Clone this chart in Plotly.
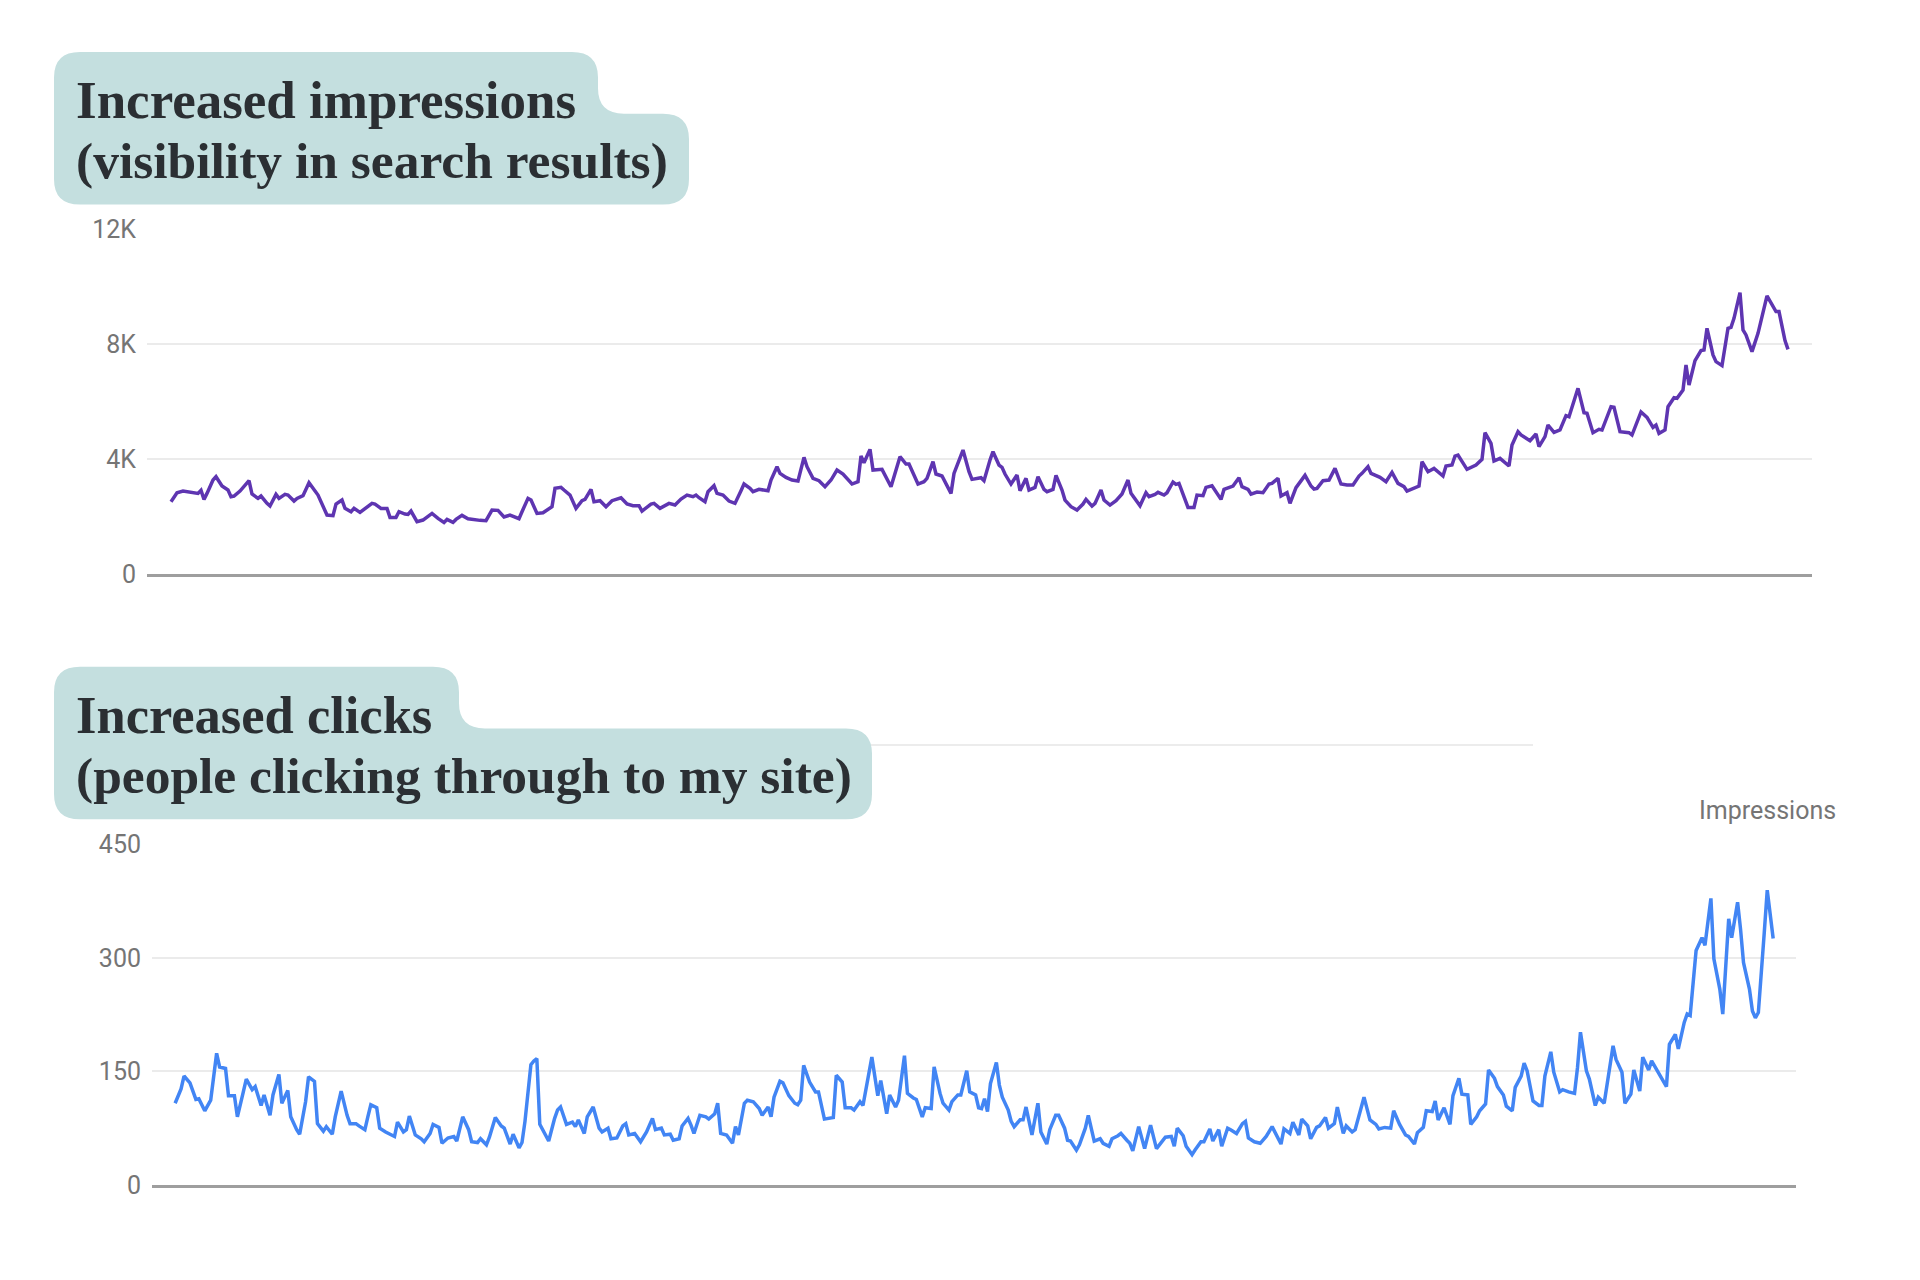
import plotly.graph_objects as go
from plotly.subplots import make_subplots

# impressions (top chart), day index vs daily impressions
imp_days = [0, 2, 4, 7, 9, 10, 11, 12, 14, 15, 17, 19, 20, 21, 23, 26, 27, 29, 30, 32, 33, 35, 36, 38, 39,
            41, 42, 44, 46, 49, 50, 52, 54, 55, 57, 58, 60, 61, 63, 65, 67, 68, 70, 72, 73, 75, 76, 78, 79, 80,
            82, 84, 86, 87, 89, 91, 92, 94, 95, 97, 99, 101, 103, 105, 107, 109, 110, 111, 113, 115, 116, 117,
            119, 120, 122, 124, 125, 127, 128, 130, 131,
            133, 135, 137, 138, 140, 141, 143, 145, 147, 150, 152, 154, 156, 157, 160, 161, 163, 166, 168, 170,
            172, 174, 175, 176, 178, 179, 181, 182, 184, 186, 188, 190, 191, 193, 194, 196, 199, 200, 202, 203,
            205, 207, 209, 211, 212, 214, 216, 218, 220, 222, 224, 227, 229, 230, 231, 233, 234, 237, 239, 240,
            243, 245, 246, 249, 251, 252, 254, 255, 257, 258, 260, 261, 264, 266, 267,
            270, 271, 273, 274, 276, 277, 278, 280, 282, 283, 285, 286, 288, 289, 291, 292, 294, 295, 297, 298,
            300, 302, 304, 305, 307, 308, 310, 311, 313, 315, 317, 319, 320, 322, 323, 325, 326, 328, 329, 331,
            332, 334, 335, 336, 338, 339, 341, 342, 344, 345, 347, 350, 351, 353, 354, 356, 357, 359, 360, 362,
            364, 366, 367, 369, 370, 372, 373, 375, 378, 380, 381, 382, 384, 386, 388, 390, 392, 394, 396, 397,
            399, 400,
            403, 405, 407, 409, 411, 412, 414, 416, 417, 419, 421, 424, 425, 427, 428, 429, 432, 435, 437, 438,
            440, 441, 443, 446, 447, 449, 450, 453, 455, 456, 458, 459, 461, 463, 465, 466, 469, 471, 472, 474,
            476, 477, 480, 481, 483, 485, 486, 487, 490, 492, 494, 495, 496, 498, 499, 501, 502, 504, 505, 506,
            508, 510, 511, 512, 514, 515, 517, 519, 520, 521, 523, 524, 525, 527, 529, 532, 533, 535, 536, 538,
            539]
impressions = [2515, 2828, 2886, 2828, 2805, 2910, 2596, 2805, 3269, 3385, 3060, 2921, 2689, 2712, 2886, 3246,
               2782, 2631, 2712, 2457, 2364, 2770, 2631, 2770, 2747, 2538, 2631, 2724, 3176, 2747, 2515, 2051,
               2028, 2434, 2573, 2283, 2167, 2283, 2144, 2283, 2457, 2434, 2283, 2283, 1970, 1970, 2167, 2086,
               2074, 2190, 1819, 1877, 2016, 2109, 1935, 1796, 1900, 1796, 1900, 2040, 1924, 1889, 1866, 1854,
               2225, 2214, 2109, 1982, 2051, 1947, 1924, 2167, 2631, 2573, 2109, 2132, 2202, 2341, 2979, 3014,
               2921,
               2747, 2283, 2550, 2596, 2944, 2515, 2550, 2341, 2550, 2654, 2434, 2376, 2376, 2190, 2434, 2457,
               2283, 2457, 2399, 2608, 2747, 2689, 2747, 2654, 2515, 2863, 3072, 2805, 2747, 2538, 2457, 2898,
               3130, 2979, 2863, 2944, 2898, 3269, 3733, 3501, 3362, 3269, 3234, 4058, 3733, 3327, 3246, 3037,
               3269, 3617, 3478, 3130, 3211, 4104, 3872, 4336, 3617, 3640, 3269, 3037, 4081, 3826, 3826, 3130,
               3211, 3327, 3907, 3478, 3408, 3211, 2805, 3501, 4313, 3559, 3292,
               3350, 3246, 3965, 4255, 3791, 3710, 3478, 3130, 3443, 2898, 3327, 2921, 3014, 3385, 2944, 2863,
               2944, 3432, 2921, 2573, 2341, 2225, 2434, 2596, 2364, 2457, 2921, 2573, 2399, 2550, 2782, 3269,
               2805, 2515, 2376, 2828, 2689, 2770, 2840, 2747, 2828, 3200, 3118, 3153, 2631, 2318, 2318, 2747,
               2724, 3014, 3072, 2596, 2944, 3037, 3060, 3350, 3037, 2944, 2782, 2852, 2828, 3130, 3153, 3327,
               2712, 2828, 2457, 3002, 3432, 3060, 2956, 2979, 3246, 3269, 3675, 3130, 3095, 3095, 3408, 3501,
               3733, 3501,
               3362, 3211, 3536, 3153, 3037, 2886, 2979, 3060, 3907, 3559, 3675, 3408, 3756, 3791, 4104, 4139,
               3640, 3791, 3988, 4916, 4545, 3930, 4023, 3756, 4487, 4951, 4835, 4638, 4870, 4429, 4777, 5183,
               4928, 5009, 5508, 5473, 6459, 5612, 5589, 4916, 5032, 5009, 5821, 5798, 4951, 4916, 4916, 4835,
               5636, 5450, 5102, 5183, 4893, 5009, 5821, 6134, 6111, 6401, 7271, 6575, 7422, 7770, 7793, 8547,
               7619, 7387, 7248, 8547, 8582, 8895, 9788, 8489, 8315, 7735, 8373, 9672, 9475, 9127, 9127, 8118,
               7816]

# clicks (bottom chart), day index vs daily clicks
clk_days = [0, 2, 3, 5, 7, 8, 10, 11, 12, 14, 15, 17, 18, 20, 21, 23, 24, 26, 27, 29, 30, 32, 33, 35, 36, 38,
            39, 41, 42, 44, 45, 47, 48, 50, 51, 53, 54, 56, 58, 59, 61, 62, 64, 65, 66, 68, 69, 71, 72, 74, 75,
            77, 78, 79, 81, 83, 84, 86, 87, 89, 90, 92, 94, 95, 97, 99, 100, 102, 103, 105, 106, 108, 110, 111,
            113, 114, 116, 117, 118, 120, 121, 122, 123, 124, 126, 128, 129, 130, 132, 134,
            135, 136, 138, 139, 141, 143, 144, 146, 147, 149, 151, 152, 153, 155, 157, 159, 161, 162, 164, 165,
            167, 168, 170, 171, 173, 174, 175, 177, 179, 180, 182, 183, 184, 186, 188, 189, 190, 192, 193, 195,
            197, 198, 200, 201, 202, 204, 205, 207, 209, 210, 211, 212, 214, 216, 217, 219, 221, 222, 223, 225,
            226, 228, 229, 231, 232, 234, 235, 237, 238, 240, 241, 243, 244, 246, 247, 249, 250, 252, 253, 255,
            256, 258, 259, 261, 262, 264, 265, 267, 268, 270, 271,
            272, 273, 274, 275, 277, 278, 279, 281, 282, 283, 285, 286, 287, 289, 291, 292, 294, 295, 297, 298,
            300, 301, 302, 304, 305, 307, 308, 310, 312, 313, 315, 316, 318, 319, 321, 322, 323, 325, 327, 328,
            329, 331, 333, 334, 336, 337, 338, 340, 341, 343, 344, 346, 347, 349, 350, 352, 353, 355, 356, 358,
            360, 361, 362, 364, 366, 368, 370, 371, 373, 374, 376, 377, 379, 380, 382, 383, 385, 386, 388, 389,
            391, 392, 394, 395, 397, 398, 400, 401, 403, 405, 406,
            408, 410, 411, 413, 415, 416, 418, 419, 421, 422, 424, 425, 426, 428, 430, 431, 433, 434, 436, 437,
            439, 440, 442, 443, 445, 446, 448, 449, 451, 452, 454, 455, 456, 458, 460, 461, 462, 464, 465, 467,
            468, 470, 472, 473, 474, 476, 477, 479, 480, 482, 483, 485, 486, 488, 489, 491, 492, 494, 495, 497,
            498, 500, 501, 503, 504, 506, 507, 509, 510, 511, 513, 515, 516, 518, 519, 521, 522, 524, 525, 527,
            528, 529, 531, 532, 533, 534, 536, 537, 539]
clicks = [108, 127, 144, 135, 113, 114, 98, 105, 112, 174, 156, 154, 118, 118, 90, 123, 140, 126, 130, 105,
          119, 92, 119, 146, 108, 125, 90, 73, 67, 110, 143, 137, 81, 71, 77, 67, 90, 124, 92, 81, 81, 78, 73,
          90, 106, 102, 75, 70, 68, 64, 83, 70, 73, 91, 66, 61, 57, 68, 80, 76, 55, 62, 64, 58, 90, 73, 57, 56,
          61, 53, 63, 89, 78, 75, 54, 67, 49, 56, 84, 159, 164, 167, 80, 73, 58, 88, 99, 103, 80, 83,
          77, 86, 68, 90, 103, 75, 70, 75, 61, 62, 78, 81, 66, 68, 57, 70, 88, 73, 75, 66, 67, 59, 61, 78, 88,
          79, 68, 92, 90, 87, 94, 108, 68, 66, 55, 77, 66, 108, 112, 110, 101, 92, 103, 90, 116, 137, 135, 118,
          108, 106, 112, 158, 136, 123, 123, 87, 89, 89, 145, 136, 102, 102, 99, 110, 105, 149, 169, 118, 138,
          94, 119, 103, 112, 171, 121, 115, 113, 90, 102, 101, 156, 121, 108, 99, 110, 119, 119, 151, 123, 119,
          102,
          101, 114, 97, 134, 162, 132, 116, 99, 84, 77, 86, 86, 103, 66, 108, 70, 54, 73, 92, 92, 75, 59, 58,
          46, 53, 75, 92, 58, 61, 55, 51, 61, 65, 68, 59, 55, 45, 77, 48, 66, 79, 48, 59, 63, 64, 51, 75, 65,
          51, 40, 46, 57, 57, 74, 58, 73, 51, 75, 73, 68, 81, 84, 62, 57, 55, 64, 77, 70, 54, 74, 68, 83, 66,
          87, 78, 61, 76, 78, 89, 75, 81, 103, 68, 78, 70, 73, 102, 116, 86, 80, 74,
          76, 75, 98, 80, 66, 64, 54, 69, 76, 98, 97, 111, 86, 102, 80, 118, 141, 120, 119, 80, 90, 98, 107,
          152, 141, 130, 119, 104, 98, 129, 144, 161, 151, 111, 105, 105, 144, 176, 149, 123, 126, 123, 121,
          155, 202, 151, 140, 105, 116, 108, 135, 184, 166, 149, 108, 120, 152, 124, 169, 152, 164, 151, 144,
          130, 186, 199, 180, 215, 226, 224, 310, 327, 317, 379, 299, 259, 226, 352, 327, 374, 338, 294, 259,
          230, 221, 228, 334, 390, 326]

imp_ticks = [0, 4000, 8000, 12000]
imp_ticktext = ["0", "4K", "8K", "12K"]
clk_ticks = [0, 150, 300, 450]
clk_ticktext = ["0", "150", "300", "450"]

W, H = 1920, 1280


def px(x):
    return x / W


def py(y):
    return 1 - y / H


def box_path(x0, y0, xs, ys, x1, y1, r):
    # two-row label box: first row ends at xs, second row starts at ys
    pts = [("M", x0, y0 + r), ("Q", x0, y0, x0 + r, y0), ("L", xs - r, y0),
           ("Q", xs, y0, xs, y0 + r), ("L", xs, ys - r), ("Q", xs, ys, xs + r, ys),
           ("L", x1 - r, ys), ("Q", x1, ys, x1, ys + r), ("L", x1, y1 - r),
           ("Q", x1, y1, x1 - r, y1), ("L", x0 + r, y1), ("Q", x0, y1, x0, y1 - r)]
    out = ""
    for p in pts:
        cmd = p[0]
        vals = p[1:]
        coords = []
        for i in range(0, len(vals), 2):
            coords.append("%.5f,%.5f" % (px(vals[i]), py(vals[i + 1])))
        out += cmd + " ".join(coords) + " "
    return out + "Z"


fig = make_subplots(rows=2, cols=1)

fig.add_trace(go.Scatter(x=imp_days, y=impressions, mode="lines",
                         line=dict(color="#5e35b1", width=3.5), showlegend=False),
              row=1, col=1)
fig.add_trace(go.Scatter(x=clk_days, y=clicks, mode="lines",
                         line=dict(color="#4285f4", width=3.5), showlegend=False),
              row=2, col=1)

tickfont = dict(family="Roboto", size=25, color="#757575")

fig.update_xaxes(domain=[px(147), px(1812)], range=[-8, 547], row=1, col=1)
fig.update_xaxes(domain=[px(152), px(1796)], range=[-7.8, 546.7], row=2, col=1)
fig.update_xaxes(showgrid=False, zeroline=False, showticklabels=False, ticks="",
                 showline=True, linecolor="#9e9e9e", linewidth=3)

fig.update_yaxes(domain=[py(573), py(220)], range=[0, 12000], tickvals=imp_ticks,
                 ticktext=imp_ticktext, row=1, col=1)
fig.update_yaxes(domain=[py(1198), py(850)], range=[0, 450], tickvals=clk_ticks,
                 ticktext=clk_ticktext, row=2, col=1)
fig.update_yaxes(showgrid=True, gridcolor="#ebebeb", gridwidth=2, zeroline=False,
                 showline=False, ticks="", tickfont=tickfont, ticklabelstandoff=10)

box_color = "#c4dfdf"
shapes = [
    dict(type="line", xref="paper", yref="paper", x0=px(700), x1=px(1533), y0=py(748), y1=py(748),
         line=dict(color="#ececec", width=2), layer="below"),
    dict(type="path", xref="paper", yref="paper", path=box_path(54, 39, 598, 102, 689, 195, 26),
         fillcolor=box_color, line=dict(width=0)),
    dict(type="path", xref="paper", yref="paper", path=box_path(54, 668, 459, 731, 872, 824, 26),
         fillcolor=box_color, line=dict(width=0)),
]

annotations = []
for txt, y, size in [("<b>Increased impressions</b>", 88, 53),
                     ("<b>(visibility in search results)</b>", 150, 51.5),
                     ("<b>Increased clicks</b>", 717, 52.5),
                     ("<b>(people clicking through to my site)</b>", 779, 51.5)]:
    annotations.append(dict(text=txt, xref="paper", yref="paper", x=px(74), y=py(y),
                            xanchor="left", yanchor="middle", showarrow=False,
                            font=dict(family="Liberation Serif", size=size, color="#2b2f33")))
annotations.append(dict(text="Impressions", xref="paper", yref="paper", x=px(1838), y=py(815),
                        xanchor="right", yanchor="middle", showarrow=False,
                        font=dict(family="Roboto", size=25, color="#757575")))

fig.update_layout(width=W, height=H, margin=dict(l=0, r=0, t=0, b=0),
                  paper_bgcolor="white", plot_bgcolor="white",
                  shapes=shapes, annotations=annotations)

# the page body has a default margin; drop it so the figure fills the window exactly
fig.write_html("out.html", config={"displayModeBar": False},
               post_script="document.body.style.margin='0px';document.body.style.overflow='hidden';")
